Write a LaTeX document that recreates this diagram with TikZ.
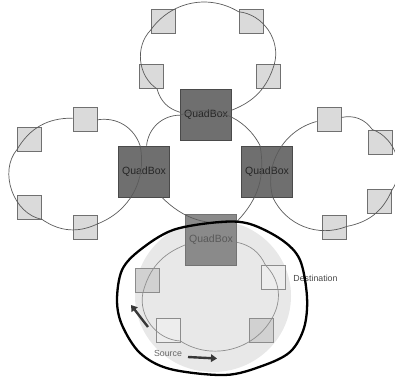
\documentclass[tikz,border=0pt]{standalone}
\usepackage{fontspec}
\setmainfont{Liberation Sans}
\usetikzlibrary{arrows.meta}

\definecolor{quadfill}{HTML}{6F6F6F}
\definecolor{quadedge}{HTML}{4A4A4A}
\definecolor{nodefill}{HTML}{DADADA}
\definecolor{nodeedge}{HTML}{707070}
\definecolor{ringline}{HTML}{5A5A5A}
\definecolor{fadeline}{HTML}{8E8E8E}
\definecolor{areafill}{HTML}{E8E8E8}

\begin{document}
\begin{tikzpicture}[
    x=1pt, y=1pt,
    quad/.style={draw=quadedge, fill=quadfill, rectangle, minimum size=51pt,
                 inner sep=0pt, line width=0.8pt, text=black!85,
                 font=\fontsize{10.5}{12}\selectfont},
    station/.style={draw=nodeedge, fill=nodefill, rectangle, minimum size=24pt,
                    inner sep=0pt, line width=0.9pt},
    ring/.style={draw=ringline, line width=0.7pt},
    flow/.style={-{Triangle[length=6pt,width=7.5pt]}, line width=2.4pt, draw=black!78},
    tag/.style={font=\fontsize{8.8}{10}\selectfont, inner sep=0pt}
]
    \useasboundingbox (0,0) rectangle (395,-379);

    % Shaded area round the lower ring
    \fill[areafill] (213,-296) ellipse [x radius=78, y radius=76];

    % QuadBoxes
    \node[quad] (qtop) at (206,-115) {QuadBox};
    \node[quad] (qleft) at (144,-171.5) {QuadBox};
    \node[quad] (qright) at (267,-171.5) {QuadBox};
    \node[quad, fill=black!46, draw=black!55, text=black!65] (qbot) at (211,-240) {QuadBox};

    % Top ring
    \node[station] (t1) at (151,-76.5) {};
    \node[station] (t2) at (163,-21.5) {};
    \node[station] (t3) at (251,-21.5) {};
    \node[station] (t4) at (268.5,-76.5) {};
    % Left ring
    \node[station] (l1) at (85,-119.5) {};
    \node[station] (l2) at (29.5,-139.5) {};
    \node[station] (l3) at (29.5,-207.5) {};
    \node[station] (l4) at (85,-227.5) {};
    % Right ring
    \node[station] (r1) at (329,-119.5) {};
    \node[station] (r2) at (380.5,-142) {};
    \node[station] (r3) at (379.5,-201.5) {};
    \node[station] (r4) at (334.5,-227.5) {};
    % Lower ring
    \node[station, fill=black!18, draw=black!45] (b1) at (147.5,-280.5) {};
    \node[station, fill=black!7, draw=black!45] (src) at (168,-330.5) {};
    \node[station, fill=black!18, draw=black!45] (b3) at (261.5,-330.5) {};
    \node[station, fill=black!7, draw=black!45] (dst) at (273.5,-277.5) {};

    % Ring links
    \draw[ring] (qtop) to[bend left=29] (t1) to[bend left=50] (t2)
        to[bend left=43] (t3) to[bend left=50] (t4) to[bend left=26] (qtop);
    \draw[ring] (l1) to[bend left=40] (qleft) to[bend left=40] (l4)
        to[bend left=30] (l3) to[bend left=60] (l2) to[bend left=30] (l1);
    \draw[ring] (r1) to[bend left=33] (r2) to[bend left=53] (r3)
        to[bend left=28] (r4) to[bend left=43] (qright) to[bend left=45] (r1);
    \draw[ring] (qleft) to[bend left=42] (qtop) to[bend left=42] (qright)
        to[bend left=27] (qbot) to[bend left=27] (qleft);
    \draw[ring, draw=fadeline] (qbot) to[bend left=26] (dst) to[bend left=37] (b3)
        to[bend left=47] (src) to[bend left=49] (b1) to[bend left=27] (qbot);

    % Labels
    \node[tag, text=black!60] (srctext) at (168,-353) {Source};
    \node[tag, text=black!72] (dsttext) at (315.5,-278) {Destination};

    % Direction of travel
    \coordinate (up0) at (148,-327);
    \coordinate (up1) at (131,-305);
    \coordinate (rt0) at (188,-357);
    \coordinate (rt1) at (217,-358.5);
    \draw[flow] (up0) -- (up1);
    \draw[flow] (rt0) -- (rt1);

    % Hand-drawn loop
    \draw[line width=2.3pt, line join=round] plot[smooth cycle, tension=0.55] coordinates {
        (220,-222) (173,-230) (140,-250) (122,-270) (117,-300) (122,-325)
        (140,-353) (170,-369) (225,-375) (262,-366) (290,-352) (304,-328)
        (307,-297) (300,-260) (282,-240) (250,-224)};
\end{tikzpicture}
\end{document}
